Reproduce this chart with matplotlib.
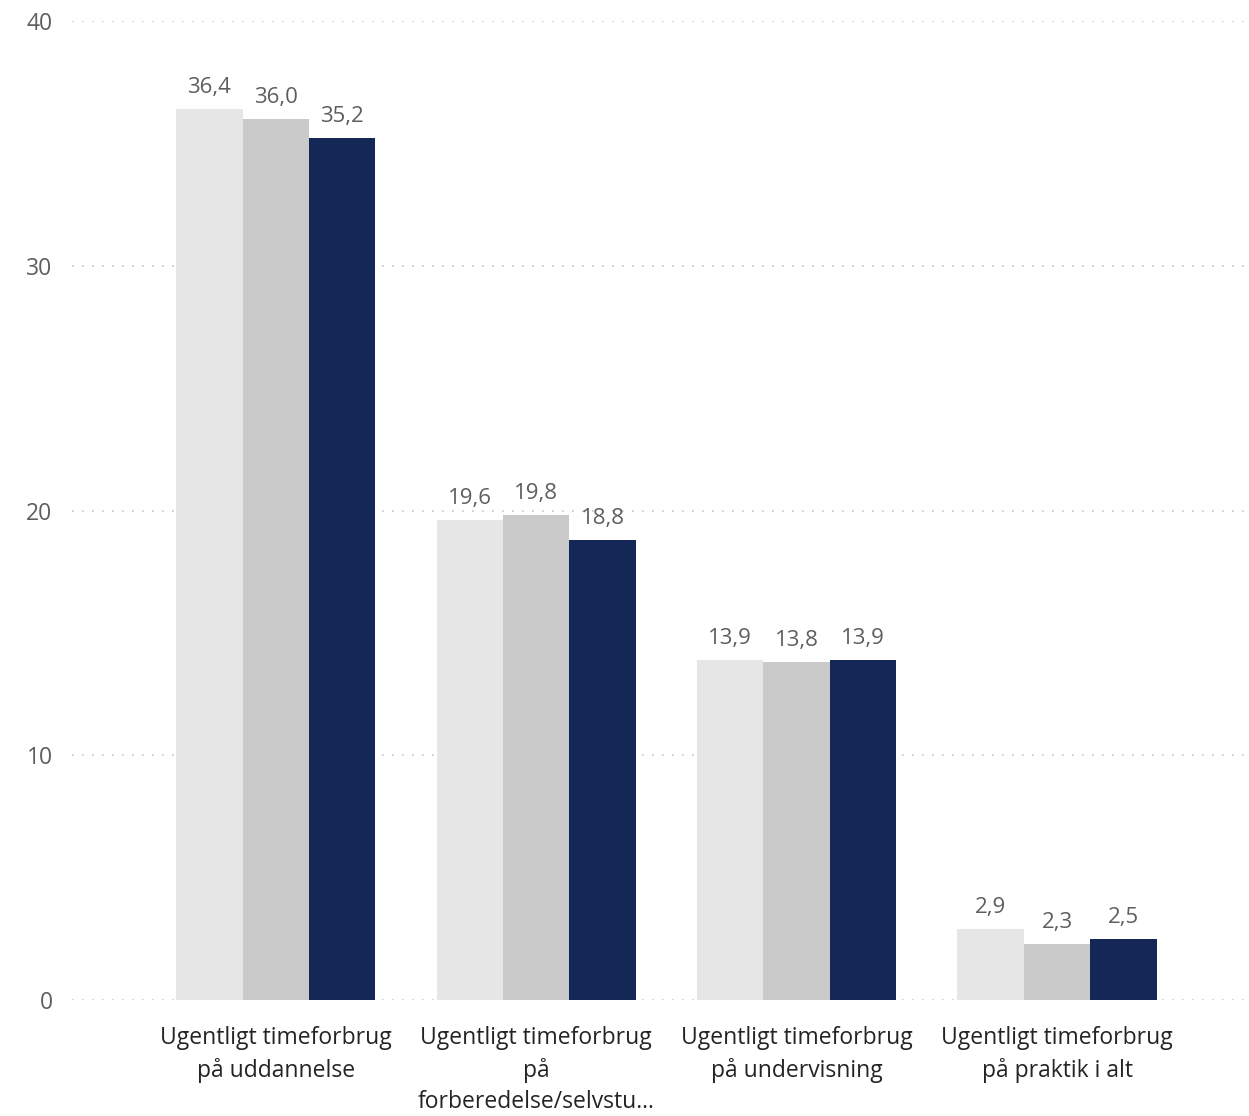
import matplotlib.pyplot as plt
import numpy as np

categories = ['Ugentligt timeforbrug\npå uddannelse',
              'Ugentligt timeforbrug\npå\nforberedelse/selvstu...',
              'Ugentligt timeforbrug\npå undervisning',
              'Ugentligt timeforbrug\npå praktik i alt']
series_a = [36.4, 19.6, 13.9, 2.9]
series_b = [36.0, 19.8, 13.8, 2.3]
series_c = [35.2, 18.8, 13.9, 2.5]
colors = ['#E6E6E6', '#CACACA', '#152757']
yticks = [0, 10, 20, 30, 40]

plt.rcParams['font.family'] = ['Open Sans', 'DejaVu Sans']

fig = plt.figure(figsize=(12.49, 11.16), dpi=100)
ax = fig.add_axes([72 / 1249, 1 - 1000 / 1116, 1 - 72 / 1249, (1000 - 21) / 1116])

x = np.arange(len(categories))
w = 0.255
for i, (vals, c) in enumerate(zip([series_a, series_b, series_c], colors)):
    pos = x + (i - 1) * w
    bars = ax.bar(pos, vals, width=w, color=c, zorder=2)
    for p, v in zip(pos, vals):
        ax.annotate(f'{v:.1f}'.replace('.', ','), (p, v), xytext=(0, 8),
                    textcoords='offset points', ha='center', va='bottom',
                    fontsize=16, color='#605E5C')

ax.set_xlim(-0.783, 3.737)
ax.set_ylim(0, 40)
ax.set_yticks(yticks)
ax.set_xticks(x)
ax.set_xticklabels(categories, fontsize=16.5, color='#252423', linespacing=1.4, va='top')
ax.tick_params(axis='y', length=0, pad=14, labelsize=16.5, labelcolor='#605E5C')
ax.tick_params(axis='x', length=0, pad=19)
ax.yaxis.grid(True, linestyle=(0, (1, 5)), color='#C8C6C4', linewidth=1.2, zorder=0)
ax.set_axisbelow(True)
for s in ax.spines.values():
    s.set_visible(False)

fig.savefig('out.png', dpi=100)
